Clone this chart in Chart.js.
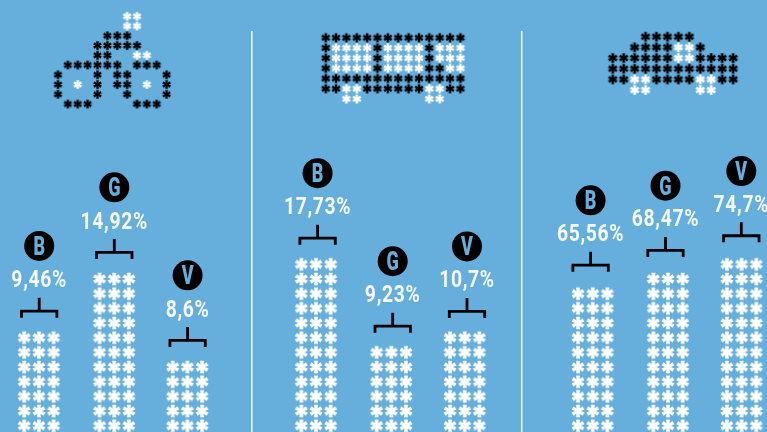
<!DOCTYPE html>
<html>
<head>
<meta charset="utf-8">
<style>html,body{margin:0;padding:0;background:#66AEDC;overflow:hidden}canvas{display:block}</style>
<script src="https://cdn.jsdelivr.net/npm/chart.js@4"></script>
</head>
<body>
<canvas id="c" width="767" height="432"></canvas>
<script>
// ---- data ----
const categories = ['B', 'G', 'V'];
const panel1Values = ['9,46%', '14,92%', '8,6%'];
const panel2Values = ['17,73%', '9,23%', '10,7%'];
const panel3Values = ['65,56%', '68,47%', '74,7%'];
const panel1Rows = [7, 11, 5];
const panel2Rows = [12, 6, 7];
const panel3Rows = [10, 11, 12];
// icon rows: K = black asterisk, W = white asterisk, . = empty
const motorbikeIcon = [
  '.......WW...',
  '.......WW...',
  '.....KKK....',
  '....KKKKK...',
  '....KK..WW..',
  '.KKKKKK.KKK.',
  'K...K.KK...K',
  'K.W.K.KK.W.K',
  'K...K..K...K',
  '.KKK....KKK.'
];
const truckIcon = [
  'KKKKKKKKKKKKKK',
  'KWWWWKWWWWKWWW',
  'KWWWWKWWWWKWWW',
  'KWWWWKWWWWKKWW',
  'KKKKKKKKKKKKKK',
  'KKWWKKKKKKWWKK',
  '..WW......WW..'
];
const carIcon = [
  '...KKKKK....',
  '..KKKKWWK...',
  'KKKKKKWWKKKK',
  'KKKKKKKKKKKK',
  'KKWWKKKKWWKK',
  '..WW....WW..'
];

// ---- layout (independent of the data) ----
const BG = '#66AEDC';
const rowPitch = 14.67, colPitch = 14.67, baseRowY = 425.7;
const panels = [
  { values: panel1Values, rows: panel1Rows, bars: [38.9, 114.2, 187.4], heads: [39.2, 114.3, 187.6], lab: 58.3, cir: 91.7, brk: 26.6 },
  { values: panel2Values, rows: panel2Rows, bars: [316, 391.3, 464.7], heads: [317.6, 392.7, 467], lab: 58.3, cir: 91.2, brk: 26.3 },
  { values: panel3Values, rows: panel3Rows, bars: [592.7, 668, 741.6], heads: [590.6, 665.5, 741.3], lab: 60.6, cir: 93.3, brk: 28.6 }
];
const icons = [
  { grid: motorbikeIcon, x0: 58, y0: 16.3, dx: 9.87, dy: 9.75 },
  { grid: truckIcon, x0: 325.7, y0: 37.7, dx: 10.36, dy: 10.2 },
  { grid: carIcon, x0: 612.7, y0: 36.7, dx: 10.95, dy: 10.67 }
];
const dividers = [251.8, 521.7];

function asterisk(size, colour) {
  const s = Math.ceil(size) + 4, cv = document.createElement('canvas');
  cv.width = cv.height = s;
  const g = cv.getContext('2d'), r = size / 2;
  g.translate(s / 2, s / 2);
  g.scale(0.96, 0.94);
  g.fillStyle = colour;
  for (let i = 0; i < 6; i++) {
    g.save(); g.rotate(i * Math.PI / 3);
    g.beginPath();
    g.moveTo(-size * 0.1, 0); g.lineTo(-size * 0.155, -r); g.lineTo(size * 0.155, -r); g.lineTo(size * 0.1, 0);
    g.closePath(); g.fill();
    g.restore();
  }
  g.beginPath(); g.arc(0, 0, size * 0.22, 0, Math.PI * 2); g.fill();
  return cv;
}
const barGlyph = asterisk(13.2, '#ffffff');
function iconGlyphs(size) { return { K: asterisk(size, '#000000'), W: asterisk(size, '#ffffff') }; }

const datasets = [];
const textItems = [];

// dividers
const divPts = [];
dividers.forEach(x => { divPts.push({ x, y: 31 }, { x, y: 432 }, { x: NaN, y: NaN }); });
datasets.push({ type: 'scatter', data: divPts, showLine: true, pointRadius: 0, borderColor: 'rgba(255,255,255,0.85)', borderWidth: 1.6, spanGaps: false });

// icons
icons.forEach(ic => {
  const gl = iconGlyphs(ic.dx * 0.9);
  ['K', 'W'].forEach(kind => {
    const pts = [];
    ic.grid.forEach((row, r) => [...row].forEach((ch, c) => {
      if (ch === kind) pts.push({ x: ic.x0 + c * ic.dx, y: ic.y0 + r * ic.dy });
    }));
    datasets.push({ type: 'scatter', data: pts, pointStyle: gl[kind], pointRadius: 5, clip: false });
  });
});

// bars, brackets, badges
const barPts = [], brkPts = [], badgePts = [];
panels.forEach(p => {
  categories.forEach((cat, i) => {
    const cx = p.bars[i], hx = p.heads[i], n = p.rows[i];
    for (let r = 0; r < n; r++) for (let c = -1; c <= 1; c++) {
      barPts.push({ x: cx + c * colPitch, y: baseRowY - r * rowPitch });
    }
    const top = baseRowY - (n - 1) * rowPitch, by = top - p.brk;
    brkPts.push({ x: hx - 17.7, y: by + 6.6 }, { x: hx - 17.7, y: by }, { x: hx + 17.7, y: by }, { x: hx + 17.7, y: by + 6.6 }, { x: NaN, y: NaN });
    brkPts.push({ x: hx, y: by }, { x: hx, y: by - 13.4 }, { x: NaN, y: NaN });
    badgePts.push({ x: hx, y: top - p.cir });
    textItems.push({ t: cat, x: hx, y: top - p.cir, badge: true });
    textItems.push({ t: p.values[i], x: hx, y: top - p.lab, badge: false });
  });
});
datasets.push({ type: 'scatter', data: barPts, pointStyle: barGlyph, pointRadius: 7, clip: false });
datasets.push({ type: 'scatter', data: brkPts, showLine: true, pointRadius: 0, borderColor: '#000', borderWidth: 2.8, spanGaps: false, borderJoinStyle: 'miter', borderCapStyle: 'butt' });
datasets.push({ type: 'scatter', data: badgePts, pointStyle: 'circle', pointRadius: 15, backgroundColor: '#000', borderWidth: 0 });

const paint = {
  id: 'paint',
  beforeDraw(ch) {
    ch.ctx.save(); ch.ctx.fillStyle = BG; ch.ctx.fillRect(0, 0, ch.width, ch.height); ch.ctx.restore();
  },
  afterDatasetsDraw(ch) {
    const g = ch.ctx, xs = ch.scales.x, ys = ch.scales.y;
    textItems.forEach(it => {
      g.save();
      g.translate(xs.getPixelForValue(it.x), ys.getPixelForValue(it.y));
      g.textAlign = 'center'; g.textBaseline = 'alphabetic';
      if (it.badge) {
        g.scale(0.72, 1);
        g.font = '900 25px Roboto, sans-serif';
        g.fillStyle = BG;
        g.fillText(it.t, 0, 8.9);
      } else {
        g.scale(0.84, 1);
        if ('letterSpacing' in g) g.letterSpacing = '0.8px';
        g.font = '700 23px Roboto, sans-serif';
        g.fillStyle = '#F4F9FD';
        g.fillText(it.t, 0, 8);
      }
      g.restore();
    });
  }
};

new Chart(document.getElementById('c'), {
  type: 'scatter',
  data: { datasets },
  plugins: [paint],
  options: {
    responsive: false, animation: false, devicePixelRatio: 1,
    layout: { padding: 0, autoPadding: false },
    plugins: { legend: { display: false }, tooltip: { enabled: false }, title: { display: false } },
    scales: {
      x: { type: 'linear', min: 0, max: 767, display: false },
      y: { type: 'linear', min: 0, max: 432, reverse: true, display: false }
    }
  }
});
</script>
</body>
</html>
